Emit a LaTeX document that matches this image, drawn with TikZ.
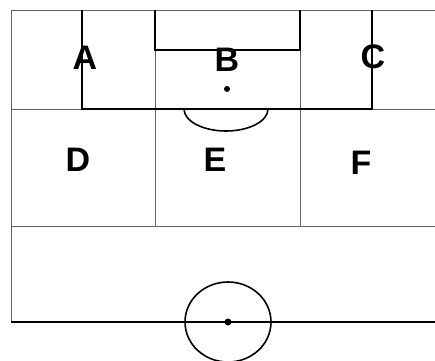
\documentclass[tikz,border=0pt]{standalone}
\usepackage{fontspec}
\setmainfont{Liberation Sans}
\usepackage{tikz}
\usetikzlibrary{positioning}
\definecolor{gridgray}{RGB}{100,100,100}
\tikzset{
  gridline/.style={line width=1pt, draw=gridgray},
  boxline/.style={line width=2.4pt, draw=black},
  fieldline/.style={line width=1.6pt, draw=black},
  zonelabel/.style={font=\fontsize{34}{38}\selectfont\bfseries, inner sep=0pt},
}

\begin{document}
\begin{tikzpicture}[x=1pt, y=-1pt]
  \useasboundingbox (0,0) rectangle (435,360);

  %% zone grid
  \draw[gridline] (435,10) -- (11,10) -- (11,322);
  \draw[gridline] (11,109) -- (435,109);
  \draw[gridline] (11,226) -- (435,226);
  \draw[gridline] (155,10) -- (155,226);
  \draw[gridline] (300,10) -- (300,226);

  %% penalty area and goal area
  \draw[boxline] (82,10) -- (82,109) -- (372,109) -- (372,10);
  \draw[boxline] (155,10) -- (155,50) -- (300,50) -- (300,10);
  \fill (227,89) circle (3);
  \draw[fieldline] (184,109) arc[start angle=180, end angle=0,
    x radius=42, y radius=22];

  %% halfway line and centre circle
  \draw[fieldline] (11,322) -- (435,322);
  \draw[fieldline] (228,322) ellipse[x radius=43, y radius=40];
  \fill (228,322) circle (3.5);

  %% zone labels
  \node[zonelabel] (zoneA) at (85,58) {A};
  \node[zonelabel] (zoneB) at (227,60) {B};
  \node[zonelabel] (zoneC) at (373,57) {C};
  \node[zonelabel] (zoneD) at (78,160) {D};
  \node[zonelabel] (zoneE) at (215,160) {E};
  \node[zonelabel] (zoneF) at (361,163) {F};

\end{tikzpicture}
\end{document}
